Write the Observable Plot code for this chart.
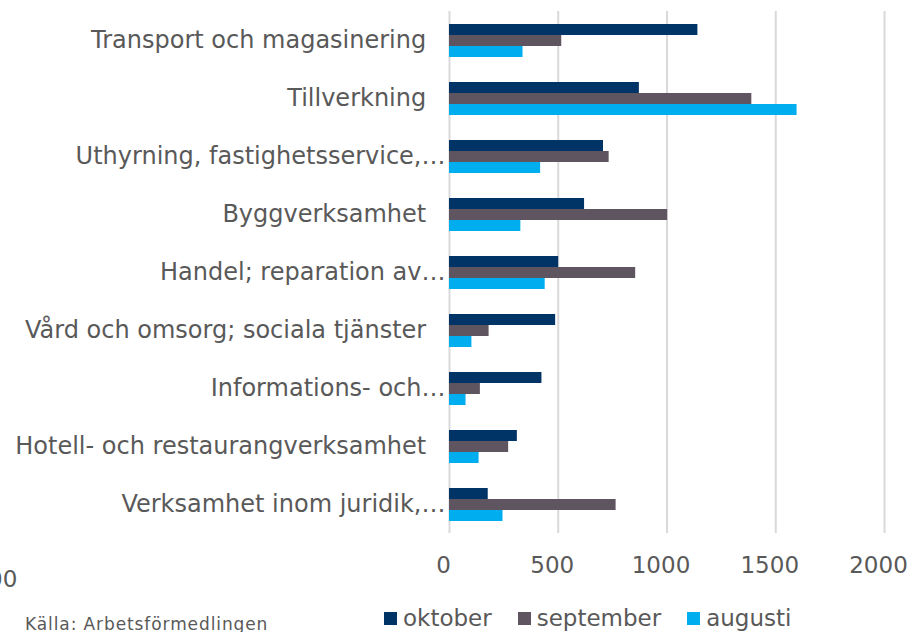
<!DOCTYPE html>
<html>
<head>
<meta charset="utf-8">
<script src="https://cdn.jsdelivr.net/npm/d3@7"></script>
<script src="https://cdn.jsdelivr.net/npm/@observablehq/plot@0.6"></script>
<style>
  html, body { margin: 0; padding: 0; background: #fff; }
  #wrap { position: relative; width: 917px; height: 632px; overflow: hidden; font-family: "DejaVu Sans", Verdana, sans-serif; color: #595959; }
  #legend { position: absolute; left: 384px; top: 605px; display: flex; align-items: center; font-size: 23px; }
  .item { display: flex; align-items: center; margin-right: 26px; }
  .sw { width: 13px; height: 13px; margin-right: 6px; }
  #source { position: absolute; left: 25px; top: 614px; font-size: 17px; letter-spacing: 0.9px; white-space: pre; }
  #cut { position: absolute; left: -12px; top: 566px; font-size: 23px; }
</style>
</head>
<body>
<div id="wrap">
  <div id="chart"></div>
  <div id="legend"></div>
  <div id="source">Källa: Arbetsförmedlingen</div>
  <div id="cut">00</div>
</div>
<script>
const categories = [
  "Transport och magasinering",
  "Tillverkning",
  "Uthyrning, fastighetsservice,…",
  "Byggverksamhet",
  "Handel; reparation av…",
  "Vård och omsorg; sociala tjänster",
  "Informations- och…",
  "Hotell- och restaurangverksamhet",
  "Verksamhet inom juridik,…"
];
const series = ["oktober", "september", "augusti"];
const oktober   = [1142, 873, 708, 621, 502, 488, 425, 312, 178];
const september = [516, 1390, 734, 1003, 856, 182, 142, 272, 766];
const augusti   = [338, 1598, 419, 328, 440, 103, 76, 136, 246];
const xTicks = [0, 500, 1000, 1500, 2000];
const colors = ["#003366", "#5f5560", "#00aeef"];

const seriesValues = {oktober, september, augusti};
const data = [];
categories.forEach((c, i) => {
  series.forEach(s => data.push({category: c, series: s, value: seriesValues[s][i]}));
});

const chart = Plot.plot({
  width: 917,
  height: 590,
  marginTop: 10,
  marginBottom: 57,
  marginLeft: 449,
  marginRight: 33,
  style: {fontFamily: '"DejaVu Sans", Verdana, sans-serif', color: "#595959", background: "#fff"},
  x: {domain: [0, 2000]},
  fy: {domain: categories, padding: 0, label: null},
  y: {domain: series, paddingInner: 0, paddingOuter: 0.92, axis: null},
  color: {domain: series, range: colors},
  marks: [
    Plot.ruleX(xTicks, {stroke: "#d9d9d9", strokeWidth: 2}),
    Plot.barX(data, {fy: "category", y: "series", x: "value", fill: "series"}),
    Plot.axisX({ticks: xTicks, tickSize: 0, tickPadding: 23, dx: -6, fontSize: 23, label: null, tickFormat: d => String(d)}),
    Plot.axisFy({anchor: "left", tickSize: 0, tickPadding: 4, fontSize: 24, label: null,
      tickFormat: d => d.endsWith("…") ? d : d + "\u2007\u2006"})
  ]
});
document.getElementById("chart").appendChild(chart);

const legend = document.getElementById("legend");
series.forEach((s, i) => {
  const it = document.createElement("div");
  it.className = "item";
  it.innerHTML = `<div class="sw" style="background:${colors[i]}"></div><span>${s}</span>`;
  legend.appendChild(it);
});
</script>
</body>
</html>
